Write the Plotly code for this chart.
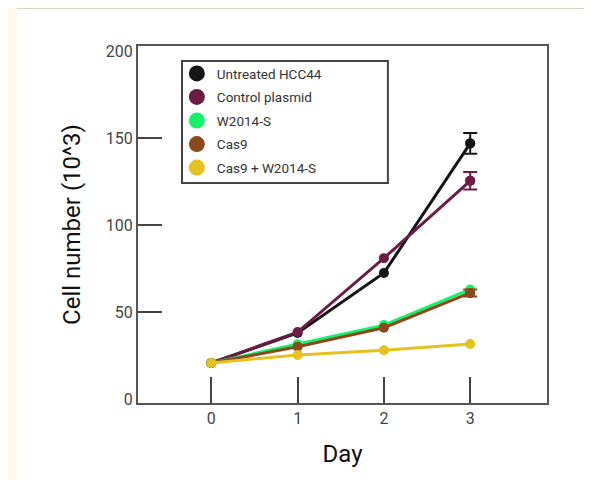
import plotly.graph_objects as go

days = [0, 1, 2, 3]
series_names = ["Untreated HCC44", "Control plasmid", "W2014-S", "Cas9", "Cas9 + W2014-S"]
untreated = [20.7, 38, 72.5, 147]
control = [20.7, 38.5, 81, 125.5]
w2014 = [20.7, 31.5, 42.5, 63]
cas9 = [20.7, 30, 41, 61]
cas9_w2014 = [20.7, 25.3, 28, 31.6]
# error (SD) at day 3 only; 0 = no visible error bar
err_day3 = [6, 5, 0, 2, 0]
colors = ["#151515", "#6c1b44", "#14f26a", "#8a4a1b", "#e6c21e"]

y_tick_vals = [0, 50, 100, 150, 200]
y_tick_marks = [50, 100, 150]
x_tick_vals = [0, 1, 2, 3]

values = [untreated, control, w2014, cas9, cas9_w2014]

fig = go.Figure()
for name, vals, err, col in zip(series_names, values, err_day3, colors):
    fig.add_trace(go.Scatter(
        x=days, y=vals, mode="lines+markers", showlegend=False,
        line=dict(color=col, width=3), marker=dict(color=col, size=10),
    ))
    if err > 0:
        fig.add_trace(go.Scatter(
            x=days[-1:], y=vals[-1:], mode="markers", showlegend=False,
            marker=dict(color=col, size=10),
            error_y=dict(type="data", array=[err], visible=True, color=col, thickness=2, width=7),
        ))
for i, (name, col) in enumerate(zip(series_names, colors)):
    fig.add_trace(go.Scatter(
        x=[None], y=[None], mode="markers", name=name, legendgroup=str(i),
        marker=dict(color=col, size=16),
    ))

fig.update_layout(
    width=592, height=480,
    margin=dict(l=130, r=53, t=38, b=85),
    paper_bgcolor="#fef9ec", plot_bgcolor="white",
    font=dict(family="Roboto", color="#444"),
    showlegend=True,
    legend=dict(
        x=0.095, y=0.966, xanchor="left", yanchor="top",
        bgcolor="rgba(0,0,0,0)", borderwidth=0,
        font=dict(family="Roboto", size=13.5, color="#333"),
        traceorder="grouped", tracegroupgap=3,
    ),
    shapes=[
        dict(type="rect", xref="paper", yref="paper", x0=-0.2958, x1=1.3, y0=-0.4, y1=1.1064,
             fillcolor="white", line=dict(width=0), layer="below"),
        dict(type="line", xref="paper", yref="paper", x0=-0.2958, x1=1.3, y0=1.1064, y1=1.1064,
             line=dict(color="#c8c0ae", width=1.5), layer="below"),
        dict(type="rect", xref="paper", yref="paper", x0=0.1076, x1=0.611, y0=0.616, y1=0.958,
             fillcolor="rgba(0,0,0,0)", line=dict(color="#444", width=2), layer="above"),
    ],
)
fig.update_xaxes(
    range=[-0.85, 3.89], tickvals=x_tick_vals, ticks="inside", ticklen=26, tickwidth=1.5,
    tickcolor="#444", showline=True, mirror=True, linecolor="#555", linewidth=2,
    showgrid=False, zeroline=False, tickfont=dict(size=16, color="#444"),
    title=dict(text="Day", font=dict(size=24, color="#111"), standoff=18),
)
fig.update_yaxes(
    range=[-2.3, 203], tickvals=y_tick_vals, ticks="", showline=True, mirror=True,
    linecolor="#555", linewidth=2, showgrid=False, zeroline=False,
    tickfont=dict(size=16, color="#444"),
    minor=dict(tickmode="array", tickvals=y_tick_marks, ticks="inside", ticklen=24,
               tickwidth=1.5, tickcolor="#444", showgrid=False),
    title=dict(text="Cell number (10^3)", font=dict(size=24, color="#111"), standoff=18),
)
fig.write_html("out.html")
